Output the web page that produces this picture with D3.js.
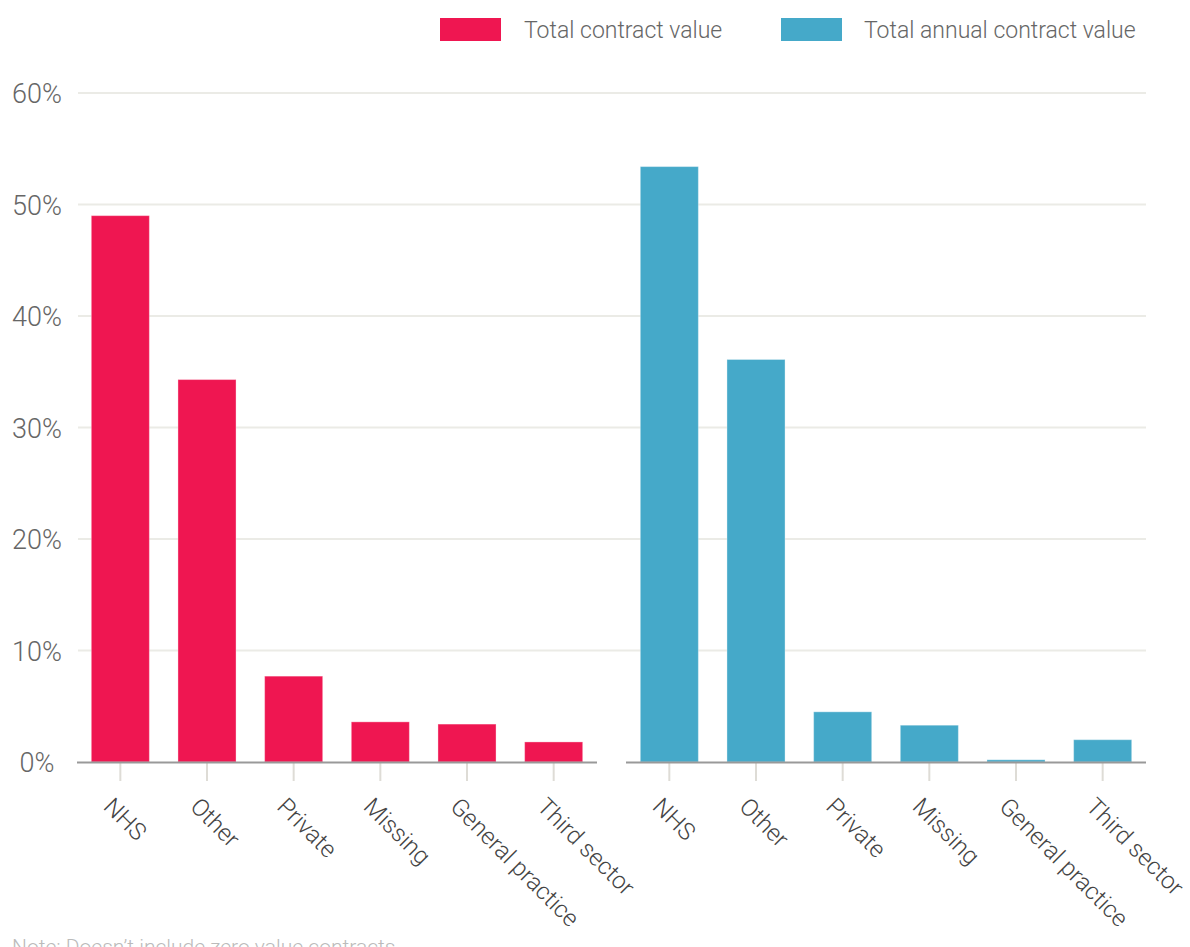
<!DOCTYPE html>
<html>
<head>
<meta charset="utf-8">
<script src="https://cdn.jsdelivr.net/npm/d3@7"></script>
<style>
  html, body { margin: 0; padding: 0; background: #fff; }
  svg { display: block; }
  text { font-family: Roboto, "Liberation Sans", sans-serif; font-weight: 300; }
</style>
</head>
<body>
<svg id="chart" width="1190" height="947"></svg>
<script>
const categories = ["NHS", "Other", "Private", "Missing", "General practice", "Third sector"];
const seriesNames = ["Total contract value", "Total annual contract value"];
const totalContractValue = [49.0, 34.3, 7.7, 3.6, 3.4, 1.8];
const totalAnnualContractValue = [53.4, 36.1, 4.5, 3.3, 0.2, 2.0];
const yTicks = [0, 10, 20, 30, 40, 50, 60];
const colors = ["#ef1651", "#45a9c9"];
const note = "Note: Doesn\u2019t include zero value contracts";

const svg = d3.select("#chart");

const y = d3.scaleLinear().domain([0, 60]).range([762, 93]);

// gridlines
svg.append("g").selectAll("line").data(yTicks.filter(d => d > 0)).join("line")
  .attr("x1", 78).attr("x2", 1146)
  .attr("y1", d => y(d)).attr("y2", d => y(d))
  .attr("stroke", "#ebebe6").attr("stroke-width", 2);

// y labels
svg.append("g").selectAll("text").data(yTicks).join("text")
  .attr("x", 37).attr("y", d => y(d) + 10)
  .attr("text-anchor", "middle")
  .attr("fill", "#666").attr("font-size", 27)
  .text(d => d + "%");

const panels = [
  { range: [77, 597], values: totalContractValue, color: colors[0] },
  { range: [626, 1146], values: totalAnnualContractValue, color: colors[1] }
];

panels.forEach(p => {
  const x = d3.scaleBand().domain(categories).range(p.range)
    .paddingInner(0.33).paddingOuter(0.165);
  const g = svg.append("g");
  // ticks
  g.selectAll("line.tick").data(categories).join("line")
    .attr("class", "tick")
    .attr("x1", d => x(d) + x.bandwidth() / 2).attr("x2", d => x(d) + x.bandwidth() / 2)
    .attr("y1", y(0)).attr("y2", y(0) + 19)
    .attr("stroke", "#dedcd6").attr("stroke-width", 2);
  // bars
  g.selectAll("rect").data(categories.map((c, i) => ({ c, v: p.values[i] }))).join("rect")
    .attr("x", d => x(d.c)).attr("width", x.bandwidth())
    .attr("y", d => y(d.v)).attr("height", d => y(0) - y(d.v))
    .attr("fill", p.color)
    .attr("stroke", "#ffffff").attr("stroke-opacity", 0.35).attr("stroke-width", 1);
  // baseline
  g.append("line")
    .attr("x1", p.range[0]).attr("x2", p.range[1])
    .attr("y1", y(0) + 0.5).attr("y2", y(0) + 0.5)
    .attr("stroke", "#999").attr("stroke-width", 2);
  // x labels
  g.selectAll("text.xl").data(categories).join("text")
    .attr("class", "xl")
    .attr("transform", d => `translate(${x(d) + x.bandwidth() / 2 - 18},${y(0) + 46}) rotate(45)`)
    .attr("text-anchor", "start")
    .attr("fill", "#444").attr("font-size", 24)
    .text(d => d);
});

// legend
const legend = [
  { name: seriesNames[0], color: colors[0], rx: 440, tx: 524 },
  { name: seriesNames[1], color: colors[1], rx: 781, tx: 864 }
];
const lg = svg.append("g");
lg.selectAll("rect").data(legend).join("rect")
  .attr("x", d => d.rx).attr("y", 18).attr("width", 61).attr("height", 23)
  .attr("fill", d => d.color);
lg.selectAll("text").data(legend).join("text")
  .attr("x", d => d.tx).attr("y", 38)
  .attr("fill", "#666").attr("font-size", 23)
  .text(d => d.name);

// note
svg.append("text").attr("x", 12).attr("y", 954)
  .attr("fill", "#bbb").attr("font-size", 21)
  .text(note);
</script>
</body>
</html>
